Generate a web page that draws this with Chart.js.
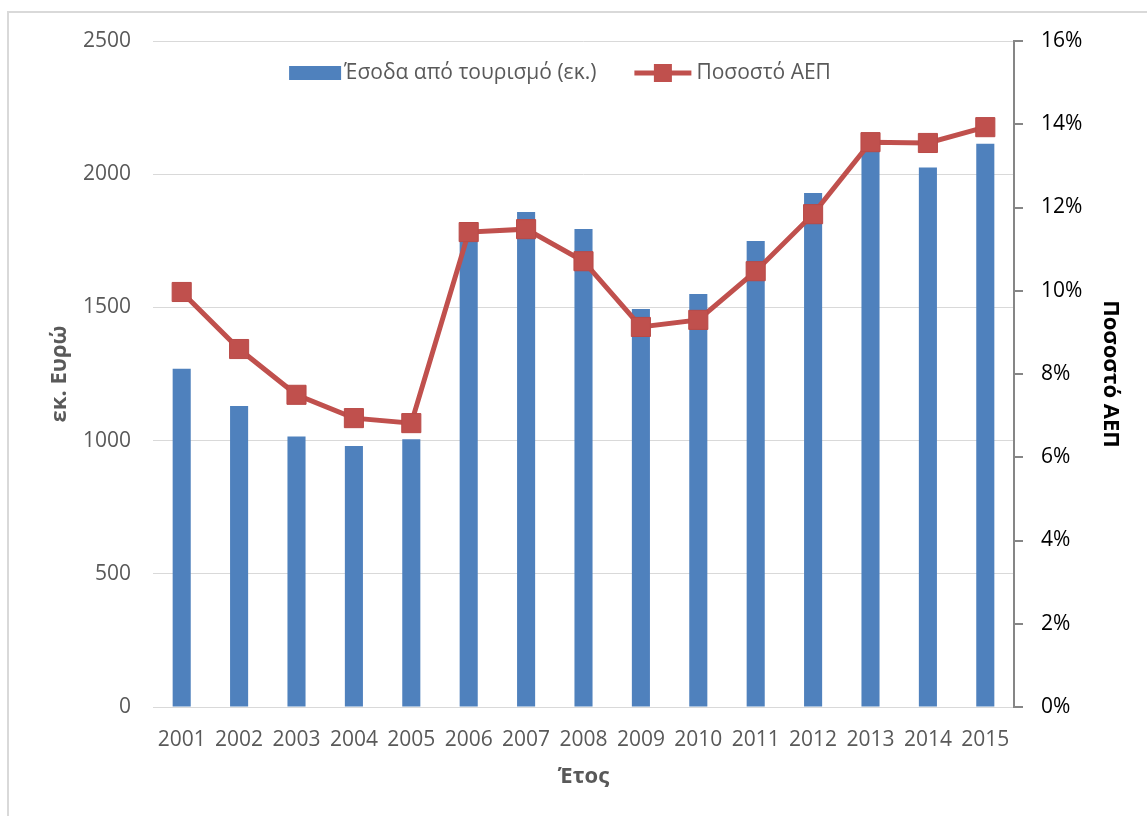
<!DOCTYPE html>
<html><head><meta charset="utf-8">
<script src="https://cdn.jsdelivr.net/npm/chart.js@4/dist/chart.umd.min.js"></script>
<style>html,body{margin:0;padding:0;background:#fff;}#wrap{width:1147px;height:816px;position:relative}</style>
</head><body><div id="wrap"><canvas id="c" width="1147" height="816"></canvas></div>
<script>
const years = ['2001','2002','2003','2004','2005','2006','2007','2008','2009','2010','2011','2012','2013','2014','2015'];
const revenue = [1270,1130,1015,980,1005,1770,1858,1794,1494,1550,1749,1929,2090,2025,2114];
const gdpShare = [9.97,8.6,7.5,6.94,6.82,11.41,11.48,10.71,9.13,9.3,10.47,11.84,13.57,13.55,13.93];
const revenueLabel = 'Έσοδα από τουρισμό (εκ.)';
const shareLabel = 'Ποσοστό ΑΕΠ';
const leftTitle = 'εκ. Ευρώ';
const rightTitle = 'Ποσοστό ΑΕΠ';
const xTitle = 'Έτος';

const FONT = "'Open Sans', 'Noto Sans', sans-serif";
const BLUE = '#4F81BD', RED = '#C0504D', GREY = '#595959', GRID = '#D9D9D9';

const frame = {
  id: 'frame',
  beforeDraw(chart) {
    const ctx = chart.ctx;
    ctx.save();
    ctx.fillStyle = '#fff';
    ctx.fillRect(0, 0, chart.width, chart.height);
    ctx.strokeStyle = GRID;
    ctx.lineWidth = 2;
    ctx.strokeRect(8, 12, 1200, 900);
    ctx.restore();
  }
};

const customLegend = {
  id: 'customLegend',
  afterDraw(chart) {
    const ctx = chart.ctx;
    ctx.save();
    ctx.font = '21px ' + FONT;
    ctx.textBaseline = 'middle';
    const ds = chart.data.datasets;
    const t1 = ds[1].label, t2 = ds[0].label;
    const w1 = ctx.measureText(t1).width, w2 = ctx.measureText(t2).width;
    const boxW = 52, gap1 = 3, gapMid = 38, lineW = 57, gap2 = 5;
    const total = boxW + gap1 + w1 + gapMid + lineW + gap2 + w2;
    let x = 560 - total / 2;
    const y = 73;
    ctx.fillStyle = BLUE;
    ctx.fillRect(x, y - 7, boxW, 14);
    x += boxW + gap1;
    ctx.fillStyle = GREY;
    ctx.fillText(t1, x, y);
    x += w1 + gapMid;
    ctx.strokeStyle = RED;
    ctx.lineWidth = 5;
    ctx.beginPath(); ctx.moveTo(x, y); ctx.lineTo(x + lineW, y); ctx.stroke();
    ctx.fillStyle = RED;
    ctx.fillRect(x + lineW / 2 - 9, y - 9, 18, 18);
    x += lineW + gap2;
    ctx.fillStyle = GREY;
    ctx.fillText(t2, x, y);
    ctx.restore();
  }
};

new Chart(document.getElementById('c'), {
  data: {
    labels: years,
    datasets: [
      {
        type: 'line', label: shareLabel, data: gdpShare, yAxisID: 'y1', order: 0,
        borderColor: RED, backgroundColor: RED, borderWidth: 5,
        pointStyle: 'rect', pointRadius: 13.5, pointBackgroundColor: RED,
        pointBorderColor: '#B94A47', pointBorderWidth: 1, tension: 0
      },
      {
        type: 'bar', label: revenueLabel, data: revenue, yAxisID: 'y', order: 1,
        backgroundColor: BLUE, borderWidth: 0,
        barPercentage: 0.315, categoryPercentage: 1
      }
    ]
  },
  options: {
    responsive: false, animation: false,
    layout: { padding: { top: 41, left: 0, right: 0, bottom: 0 } },
    plugins: { legend: { display: false }, tooltip: { enabled: false } },
    scales: {
      x: {
        offset: true,
        grid: { display: false },
        border: { display: true, color: GRID, width: 1 },
        ticks: { color: GREY, font: { family: FONT, size: 21 }, padding: 12, maxRotation: 0 },
        title: { display: true, text: xTitle, color: GREY, font: { family: FONT, size: 22, weight: 'bold' }, padding: { top: 0, bottom: 26 } },
        afterFit(s) { s.height = 109; }
      },
      y: {
        position: 'left', min: 0, max: 2500,
        ticks: { stepSize: 500, color: GREY, font: { family: FONT, size: 21 }, padding: 22, callback: v => String(v) },
        grid: { color: GRID, lineWidth: 1, drawTicks: false },
        border: { display: false },
        title: { display: true, text: leftTitle, color: GREY, font: { family: FONT, size: 22, weight: 'bold' }, padding: { top: 47, bottom: 0 } },
        afterFit(s) { s.width = 153; }
      },
      y1: {
        position: 'right', min: 0, max: 16,
        ticks: { stepSize: 2, color: '#000', font: { family: FONT, size: 21 }, padding: 18, callback: v => v + '%' },
        grid: { drawOnChartArea: false, drawTicks: true, tickLength: 9, color: '#868686', lineWidth: 2 },
        border: { display: true, color: '#868686', width: 2 },
        title: { display: true, text: rightTitle, color: '#000', font: { family: FONT, size: 22, weight: 'bold' }, padding: { top: 24, bottom: 0 } },
        afterFit(s) { s.width = 133; }
      }
    }
  },
  plugins: [frame, customLegend]
});
</script></body></html>
